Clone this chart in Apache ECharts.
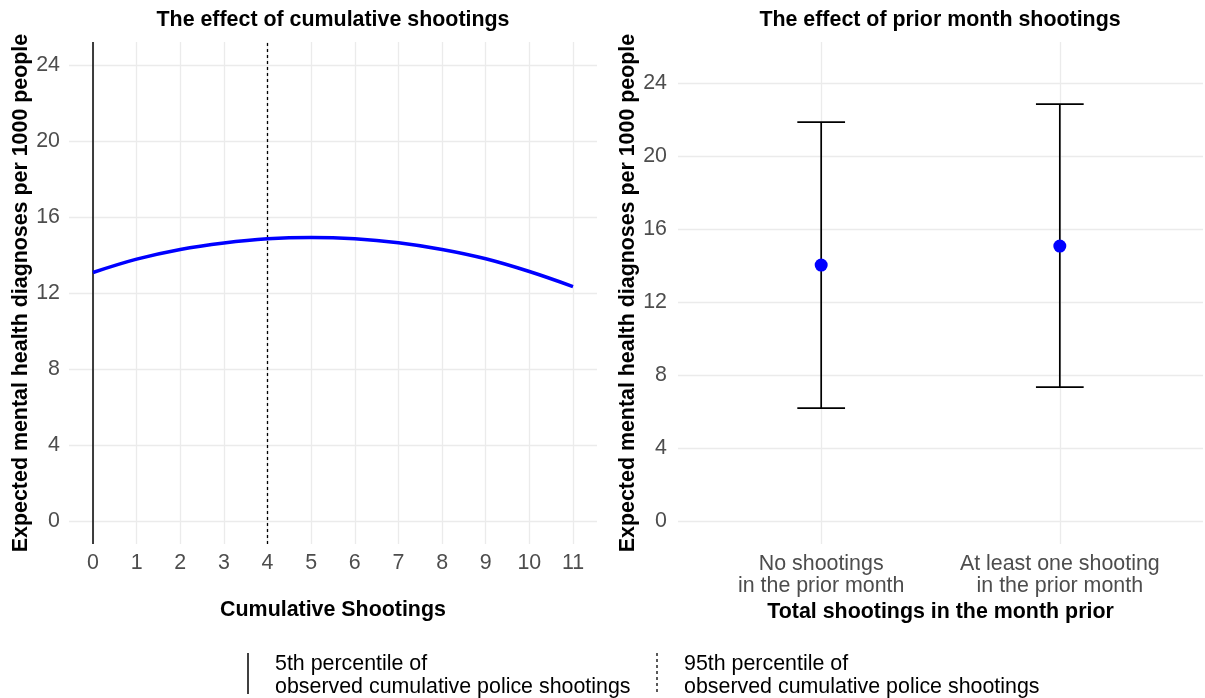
<!DOCTYPE html>
<html><head><meta charset="utf-8">
<script src="https://cdn.jsdelivr.net/npm/echarts@6/dist/echarts.min.js"></script>
<style>html,body{margin:0;padding:0;background:#fff}#c{width:1205px;height:698px}</style>
</head><body><div id="c"></div>
<script>
// ---- data ----
const cumX = [0,1,2,3,4,5,6,7,8,9,10,11];
const cumY = [13.08,13.78,14.29,14.63,14.85,14.92,14.85,14.64,14.29,13.80,13.13,12.34];
const leftYTicks = [0,4,8,12,16,20,24];
const rightYTicks = [0,4,8,12,16,20,24];
const priorCats = ['No shootings\nin the prior month','At least one shooting\nin the prior month'];
const priorPos = [1,2];
const priorEst = [14.03,15.07];
const priorLow = [6.19,7.34];
const priorHigh = [21.86,22.85];
const pct5 = 0, pct95 = 4;
const legendLabels = ['5th percentile of\nobserved cumulative police shootings','95th percentile of\nobserved cumulative police shootings'];

// ---- style ----
const FONT = "'Liberation Sans', Arial, Helvetica, sans-serif";
const FS = 21.4;
const GRIDC = '#ebebeb';
const TICKC = '#4d4d4d';
const capWidth = 0.2;

const chart = echarts.init(document.getElementById('c'), null, {renderer:'canvas'});

function gridLines(xs, ys){
  return {
    silent:true, z:1, symbol:['none','none'], label:{show:false}, animation:false,
    lineStyle:{color:GRIDC, width:1.3, type:'solid'},
    emphasis:{disabled:true},
    data: xs.map(v=>({xAxis:v})).concat(ys.map(v=>({yAxis:v})))
  };
}
const tickLabel = {color:TICKC, fontFamily:FONT, fontSize:FS};
const axisName = {color:'#000', fontFamily:FONT, fontSize:FS, fontWeight:'bold'};

const option = {
  animation:false,
  backgroundColor:'#fff',
  grid:[
    {left:69, width:528, top:42, height:502},
    {left:678, width:525, top:42, height:502}
  ],
  xAxis:[
    {type:'value', gridIndex:0, min:-0.55, max:11.55,
     name:'Cumulative Shootings', nameLocation:'middle', nameGap:56, nameTextStyle:axisName,
     axisLine:{show:false}, axisTick:{show:false}, splitLine:{show:false},
     axisLabel:Object.assign({customValues:cumX, margin:9}, tickLabel)},
    {type:'value', gridIndex:1, min:0.4, max:2.6,
     name:'Total shootings in the month prior', nameLocation:'middle', nameGap:53, nameTextStyle:axisName,
     axisLine:{show:false}, axisTick:{show:false}, splitLine:{show:false},
     axisLabel:Object.assign({customValues:priorPos, margin:9, lineHeight:22,
        formatter:v=>priorCats[priorPos.indexOf(v)]}, tickLabel)}
  ],
  yAxis:[
    {type:'value', gridIndex:0, min:-1.2, max:25.2,
     name:'Expected mental health diagnoses per 1000 people', nameLocation:'middle', nameGap:37, nameTextStyle:axisName,
     axisLine:{show:false}, axisTick:{show:false}, splitLine:{show:false},
     axisLabel:Object.assign({customValues:leftYTicks, margin:9}, tickLabel)},
    {type:'value', gridIndex:1, min:-1.25, max:26.25,
     name:'Expected mental health diagnoses per 1000 people', nameLocation:'middle', nameGap:39, nameTextStyle:axisName,
     axisLine:{show:false}, axisTick:{show:false}, splitLine:{show:false},
     axisLabel:Object.assign({customValues:rightYTicks, margin:11}, tickLabel)}
  ],
  series:[
    {type:'line', xAxisIndex:0, yAxisIndex:0, z:1, data:cumX.map((x,i)=>[x,cumY[i]]),
     symbol:'none', lineStyle:{opacity:0}, silent:true, markLine:gridLines(cumX, leftYTicks)},
    {type:'line', xAxisIndex:0, yAxisIndex:0, z:2, data:cumX.map((x,i)=>[x,cumY[i]]),
     symbol:'none', lineStyle:{opacity:0}, silent:true,
     markLine:{silent:true, z:2, symbol:['none','none'], label:{show:false}, animation:false,
       data:[
         {xAxis:pct5, lineStyle:{color:'#000', width:1.5, type:'solid'}},
         {xAxis:pct95, lineStyle:{color:'#000', width:1.3, type:[3,3]}}
       ]}},
    {type:'line', xAxisIndex:0, yAxisIndex:0, z:3, data:cumX.map((x,i)=>[x,cumY[i]]),
     symbol:'none', smooth:0.35, lineStyle:{color:'#0000ff', width:3.5}},
    {type:'line', xAxisIndex:1, yAxisIndex:1, z:1, data:priorPos.map((x,i)=>[x,priorEst[i]]),
     symbol:'none', lineStyle:{opacity:0}, silent:true, markLine:gridLines(priorPos, rightYTicks)},
    {type:'custom', xAxisIndex:1, yAxisIndex:1, z:3,
     data:priorPos.map((x,i)=>[x,priorLow[i],priorHigh[i]]),
     encode:{x:0, y:[1,2]},
     renderItem:function(params, api){
       const x = api.value(0), lo = api.value(1), hi = api.value(2);
       const a = api.coord([x, lo]), b = api.coord([x, hi]);
       const half = api.size([capWidth, 0])[0]/2;
       const st = {stroke:'#000', lineWidth:1.7};
       return {type:'group', children:[
         {type:'line', shape:{x1:a[0],y1:a[1],x2:b[0],y2:b[1]}, style:st},
         {type:'line', shape:{x1:a[0]-half,y1:a[1],x2:a[0]+half,y2:a[1]}, style:st},
         {type:'line', shape:{x1:b[0]-half,y1:b[1],x2:b[0]+half,y2:b[1]}, style:st}
       ]};
     }},
    {type:'scatter', xAxisIndex:1, yAxisIndex:1, z:5, data:priorPos.map((x,i)=>[x,priorEst[i]]),
     symbolSize:13, itemStyle:{color:'#0000ff', opacity:1}}
  ],
  graphic:[
    {type:'text', x:333, y:20, style:{text:'The effect of cumulative shootings', font:"bold "+FS+"px "+FONT, fill:'#000', textAlign:'center', textVerticalAlign:'middle'}},
    {type:'text', x:940, y:20, style:{text:'The effect of prior month shootings', font:"bold "+FS+"px "+FONT, fill:'#000', textAlign:'center', textVerticalAlign:'middle'}},
    {type:'line', shape:{x1:248,y1:653,x2:248,y2:694}, style:{stroke:'#000', lineWidth:1.5}},
    {type:'text', x:275, y:675.5, style:{text:legendLabels[0], font:FS+"px "+FONT, fill:'#000', textAlign:'left', textVerticalAlign:'middle', lineHeight:23}},
    {type:'line', shape:{x1:657,y1:653,x2:657,y2:694}, style:{stroke:'#000', lineWidth:1.3, lineDash:[3,3]}},
    {type:'text', x:684, y:675.5, style:{text:legendLabels[1], font:FS+"px "+FONT, fill:'#000', textAlign:'left', textVerticalAlign:'middle', lineHeight:23}}
  ]
};
chart.setOption(option);
</script></body></html>
